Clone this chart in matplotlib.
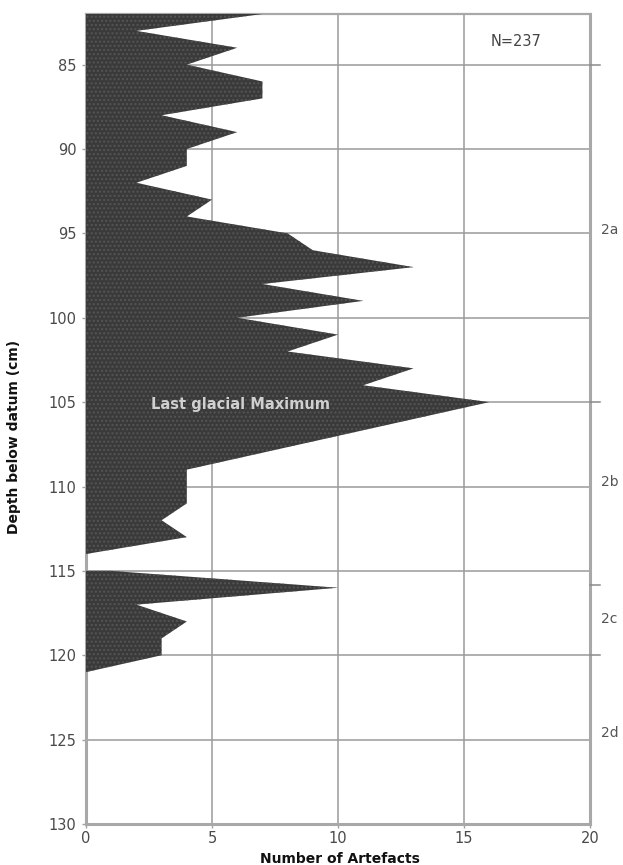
import matplotlib
matplotlib.use("Agg")
import matplotlib.pyplot as plt

# Depth (cm) and artefact counts, upper occupation block
depth_upper = [82, 83, 84, 85, 86, 87, 88, 89, 90, 91, 92, 93, 94, 95, 96, 97, 98, 99,
               100, 101, 102, 103, 104, 105, 106, 107, 108, 109, 110, 111, 112, 113, 114]
count_upper = [7, 2, 6, 4, 7, 7, 3, 6, 4, 4, 2, 5, 4, 8, 9, 13, 7, 11,
               6, 10, 8, 13, 11, 16, 13, 10, 7, 4, 4, 4, 3, 4, 0]
# lower block
depth_lower = [115, 116, 117, 118, 119, 120, 121]
count_lower = [1, 10, 2, 4, 3, 3, 0]

x_ticks = [0, 5, 10, 15, 20]
y_ticks = [85, 90, 95, 100, 105, 110, 115, 120, 125, 130]
unit_bounds = [85, 105, 115.85, 120]
unit_labels = ["2a", "2b", "2c", "2d"]
unit_label_depths = [94.8, 109.75, 117.85, 124.6]

fig = plt.figure(figsize=(6.23, 8.65), dpi=100)
ax = fig.add_axes([86/623, 1-824/865, 504/623, 810/865])

fill_kw = dict(facecolor="#3a3a3a", edgecolor="#555555", hatch="....", linewidth=0, zorder=3)
ax.fill_betweenx(depth_upper, 0, count_upper, **fill_kw)
ax.fill_betweenx(depth_lower, 0, count_lower, **fill_kw)

ax.set_xlim(0, 20)
ax.set_ylim(130, 82)
ax.set_xticks(x_ticks)
ax.set_yticks(y_ticks)
ax.set_axisbelow(True)
ax.grid(True, color="#9a9a9a", linewidth=1.1, zorder=1)

for s in ax.spines.values():
    s.set_color("#a8a8a8")
    s.set_linewidth(2.2)
ax.spines["top"].set_linewidth(1.6)

ax.tick_params(axis="both", colors="#a0a0a0", labelcolor="#4a4a4a", labelsize=10.5,
               length=3, width=1)
ax.tick_params(axis="y", pad=4)
ax.tick_params(axis="x", pad=2)

ax.set_xlabel("Number of Artefacts", fontsize=10, fontweight="bold", color="#111111")
ax.xaxis.set_label_coords(0.504, -0.034)
ax.set_ylabel("Depth below datum (cm)", fontsize=10, fontweight="bold", color="#111111")
ax.yaxis.set_label_coords(-0.128, 0.478)

ax.text(17.06, 83.64, "N=237", fontsize=10.5, color="#444444", ha="center", va="center")
ax.text(6.15, 105.15, "Last glacial Maximum", fontsize=10.5, fontweight="bold",
        color="#d0d0d0", ha="center", va="center", zorder=5)

for b in unit_bounds:
    ax.plot([20, 20.4], [b, b], color="#8a8a8a", linewidth=1.1, clip_on=False, zorder=4)
for lab, d in zip(unit_labels, unit_label_depths):
    ax.text(20.45, d, lab, fontsize=10, color="#555555", ha="left", va="center")

fig.savefig("out.png", dpi=100)
